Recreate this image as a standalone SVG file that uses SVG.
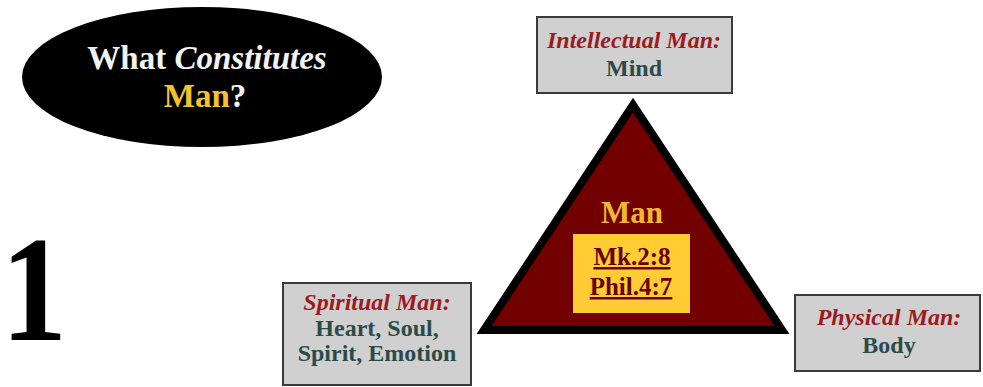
<svg xmlns="http://www.w3.org/2000/svg" width="983" height="387" viewBox="0 0 983 387">
<style>
text{font-family:"Liberation Serif","Times New Roman",serif;font-weight:bold;text-anchor:middle}
.box{fill:#d0d0d0;stroke:#3a3a3a;stroke-width:2}
.lab{font-style:italic;fill:#9b1b1f;font-size:24px}
.val{fill:#2c4b48;font-size:24px}
.ref{fill:#6b0000;font-size:25px;text-decoration:underline}
</style>
<rect width="983" height="387" fill="#fff"/>
<g id="title">
<ellipse cx="202" cy="77" rx="180" ry="70" fill="#000"/>
<text x="207" y="69" font-size="33" fill="#f2f2f2">What <tspan font-style="italic">Constitutes</tspan></text>
<text x="205" y="107" font-size="33"><tspan fill="#f5c22b">Man</tspan><tspan fill="#f2f2f2">?</tspan></text>
</g>
<g id="number">
<text transform="translate(34,340) scale(0.88,1)" x="0" y="0" font-size="150" fill="#000">1</text>
</g>
<g id="connectors"></g>
<g id="man">
<path d="M633 105 L782 330 L484 330 Z" fill="#730000" stroke="#000" stroke-width="8" stroke-linejoin="miter"/>
<text x="632" y="223" font-size="31" fill="#efb830">Man</text>
<rect x="573" y="234" width="117" height="79" fill="#ffcc33"/>
<text class="ref" x="632" y="265">Mk.2:8</text>
<text class="ref" x="631" y="295">Phil.4:7</text>
</g>
<g id="intellectual">
<rect class="box" x="537" y="17" width="195" height="76"/>
<text class="lab" x="634" y="48">Intellectual Man:</text>
<text class="val" x="634" y="76">Mind</text>
</g>
<g id="spiritual">
<rect class="box" x="283" y="283" width="188" height="102"/>
<text class="lab" x="377" y="310">Spiritual Man:</text>
<text class="val" x="377" y="336">Heart, Soul,</text>
<text class="val" x="377" y="361">Spirit, Emotion</text>
</g>
<g id="physical">
<rect class="box" x="795" y="295" width="185" height="76"/>
<text class="lab" x="889" y="325">Physical Man:</text>
<text class="val" x="889" y="353">Body</text>
</g>
</svg>
